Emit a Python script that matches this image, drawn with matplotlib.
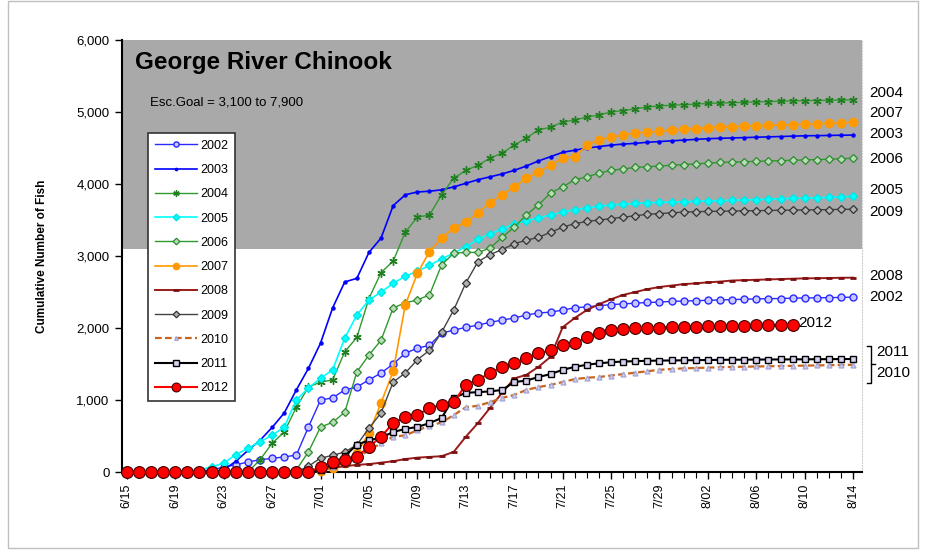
import numpy as np
import matplotlib
matplotlib.use("Agg")
import matplotlib.pyplot as plt
from matplotlib.patches import Rectangle
from matplotlib.ticker import FuncFormatter, MultipleLocator

plt.rcParams['font.family'] = ['Liberation Sans', 'DejaVu Sans']

# daily cumulative counts, 6/15 .. 8/14
y2002 = [0, 0, 0, 0, 0, 0, 10, 30, 70, 100,
         140, 170, 190, 210, 235, 625, 1000, 1030, 1140, 1180,
         1280, 1375, 1500, 1650, 1720, 1760, 1930, 1970, 2010, 2040,
         2080, 2110, 2140, 2180, 2210, 2220, 2250, 2280, 2295, 2310,
         2325, 2335, 2345, 2355, 2360, 2370, 2375, 2380, 2385, 2390,
         2395, 2400, 2405, 2408, 2410, 2415, 2418, 2420, 2422, 2425,
         2430]
y2003 = [0, 0, 0, 0, 0, 0, 0, 0, 30, 150,
         300, 440, 620, 820, 1140, 1440, 1790, 2280, 2640, 2690,
         3050, 3250, 3700, 3850, 3890, 3900, 3920, 3960, 4010, 4060,
         4100, 4140, 4190, 4250, 4320, 4380, 4440, 4470, 4500, 4520,
         4540, 4555, 4565, 4580, 4590, 4600, 4610, 4620, 4630, 4635,
         4640, 4645, 4650, 4655, 4660, 4665, 4670, 4672, 4675, 4678,
         4680]
y2004 = [0, 0, 0, 0, 0, 0, 0, 0, 0, 0,
         0, 170, 400, 555, 900, 1180, 1250, 1280, 1670, 1870,
         2410, 2770, 2930, 3330, 3540, 3570, 3850, 4080, 4190, 4260,
         4360, 4430, 4540, 4640, 4750, 4790, 4860, 4890, 4930, 4960,
         5000, 5020, 5045, 5070, 5085, 5095, 5100, 5110, 5120, 5125,
         5130, 5135, 5140, 5145, 5150, 5155, 5158, 5160, 5163, 5166,
         5170]
y2005 = [0, 0, 0, 0, 0, 0, 30, 70, 125, 240,
         330, 420, 510, 625, 1000, 1170, 1300, 1420, 1860, 2180,
         2390, 2500, 2620, 2720, 2790, 2870, 2960, 3040, 3130, 3230,
         3310, 3370, 3450, 3490, 3530, 3570, 3610, 3645, 3670, 3690,
         3710, 3720, 3730, 3740, 3745, 3750, 3755, 3760, 3765, 3770,
         3775, 3780, 3785, 3790, 3795, 3800, 3805, 3810, 3815, 3820,
         3830]
y2006 = [0, 0, 0, 0, 0, 0, 0, 0, 0, 0,
         0, 0, 0, 0, 30, 280, 625, 690, 830, 1390,
         1625, 1830, 2280, 2350, 2390, 2460, 2875, 3040, 3050, 3050,
         3110, 3260, 3400, 3570, 3710, 3875, 3960, 4060, 4100, 4150,
         4190, 4210, 4230, 4240, 4250, 4260, 4270, 4280, 4290, 4300,
         4305, 4310, 4315, 4320, 4325, 4330, 4335, 4340, 4345, 4350,
         4360]
y2007 = [0, 0, 0, 0, 0, 0, 0, 0, 0, 0,
         0, 0, 0, 0, 0, 0, 20, 60, 130, 260,
         540, 960, 1400, 2320, 2760, 3060, 3250, 3390, 3470, 3600,
         3740, 3850, 3960, 4080, 4170, 4260, 4360, 4380, 4540, 4610,
         4650, 4680, 4710, 4720, 4730, 4750, 4760, 4770, 4780, 4790,
         4795, 4800, 4810, 4815, 4820, 4825, 4830, 4840, 4845, 4850,
         4860]
y2008 = [0, 0, 0, 0, 0, 0, 0, 0, 0, 0,
         0, 0, 0, 0, 0, 0, 30, 60, 80, 100,
         110, 130, 150, 180, 200, 210, 220, 280, 490, 680,
         890, 1100, 1300, 1350, 1460, 1600, 2010, 2140, 2250, 2330,
         2400, 2460, 2500, 2540, 2570, 2590, 2610, 2620, 2635, 2645,
         2660, 2665, 2670, 2675, 2680, 2685, 2690, 2692, 2695, 2698,
         2700]
y2009 = [0, 0, 0, 0, 0, 0, 0, 0, 0, 0,
         0, 0, 0, 0, 0, 80, 195, 230, 280, 375,
         610, 820, 1250, 1375, 1560, 1690, 1940, 2250, 2625, 2920,
         3020, 3090, 3170, 3220, 3260, 3330, 3400, 3450, 3480, 3500,
         3520, 3540, 3560, 3580, 3590, 3600, 3610, 3615, 3620, 3622,
         3625, 3628, 3630, 3633, 3636, 3638, 3640, 3642, 3645, 3648,
         3650]
y2010 = [0, 0, 0, 0, 0, 0, 0, 0, 0, 0,
         0, 0, 0, 0, 0, 0, 30, 70, 130, 200,
         300, 400, 490, 510, 580, 640, 690, 790, 900, 920,
         970, 1030, 1070, 1140, 1180, 1210, 1250, 1290, 1310, 1320,
         1340, 1360, 1380, 1400, 1420, 1430, 1440, 1445, 1450, 1455,
         1460, 1463, 1466, 1469, 1472, 1475, 1478, 1481, 1484, 1487,
         1490]
y2011 = [0, 0, 0, 0, 0, 0, 0, 0, 0, 0,
         0, 0, 0, 0, 0, 0, 30, 100, 220, 380,
         440, 480, 555, 600, 625, 680, 750, 1030, 1100, 1110,
         1120, 1140, 1250, 1270, 1320, 1360, 1420, 1460, 1490, 1510,
         1525, 1535, 1540, 1545, 1548, 1550, 1552, 1554, 1556, 1558,
         1560, 1561, 1562, 1563, 1564, 1565, 1566, 1567, 1568, 1569,
         1570]
y2012 = [0, 0, 0, 0, 0, 0, 0, 0, 0, 0,
         0, 0, 0, 0, 0, 0, 70, 140, 165, 210,
         350, 490, 680, 760, 790, 890, 930, 970, 1210, 1280,
         1375, 1460, 1510, 1580, 1650, 1690, 1760, 1790, 1870, 1930,
         1970, 1985, 1995, 2000, 2005, 2010, 2015, 2020, 2025, 2030,
         2032, 2035, 2037, 2040, 2040, 2042]

years = ['2002', '2003', '2004', '2005', '2006', '2007',
         '2008', '2009', '2010', '2011', '2012']
tick_labels = ['6/15', '6/19', '6/23', '6/27', '7/01', '7/05', '7/09', '7/13',
               '7/17', '7/21', '7/25', '7/29', '8/02', '8/06', '8/10', '8/14']
goal_low, goal_high = 3100, 7900

series = [y2002, y2003, y2004, y2005, y2006, y2007,
          y2008, y2009, y2010, y2011, y2012]

styles = {
    '2002': dict(color='#2a2aff', lw=1.0, marker='o', ms=5, mfc='#c8c8ff', mec='#2a2aff', mew=1.0),
    '2003': dict(color='#0000ff', lw=1.2, marker='o', ms=2.2, mfc='#0000ff', mec='#0000ff'),
    '2004': dict(color='#2e9a2e', lw=1.0, marker=(6, 2, 0), ms=6, mec='#1f7f1f', mew=1.0),
    '2005': dict(color='#00ffff', lw=1.2, marker='D', ms=4.5, mfc='#00ffff', mec='#00e5e5'),
    '2006': dict(color='#2e9a2e', lw=1.0, marker='D', ms=4.5, mfc='#b8dcb8', mec='#2e8a2e', mew=0.9),
    '2007': dict(color='#ff9900', lw=1.2, marker='o', ms=6, mfc='#ff9900', mec='#ff9900'),
    '2008': dict(color='#9b1b1b', lw=1.4, marker='_', ms=5, mec='#7a0f0f', mew=2.0),
    '2009': dict(color='#444444', lw=1.0, marker='D', ms=4.5, mfc='#b0b0b0', mec='#333333', mew=0.9),
    '2010': dict(color='#c8641e', lw=1.6, ls=(0, (3, 1.5)), marker='^', ms=3.5, mfc='#d0d0f0', mec='#a8a8d8'),
    '2011': dict(color='#000000', lw=1.5, marker='s', ms=5, mfc='#d8d0f0', mec='#000000', mew=1.0),
    '2012': dict(color='#ff0000', lw=1.5, marker='o', ms=8.5, mfc='#ff0000', mec='#400000', mew=0.8),
}

fig = plt.figure(figsize=(9.35, 5.56), dpi=100)
ax = fig.add_axes([0.1305, 0.151, 0.791, 0.777])

# escapement goal band
ax.axhspan(goal_low, goal_high, color='#a9a9a9', zorder=0, lw=0)

for yr, vals in zip(years, series):
    days = np.arange(len(vals))
    st = dict(styles[yr])
    ls = st.pop('ls', '-')
    ax.plot(days, vals, linestyle=ls, label=yr, clip_on=False, zorder=3, **st)

ax.set_xlim(-0.4, 60.7)
ax.set_ylim(0, 6000)
ax.yaxis.set_major_locator(MultipleLocator(1000))
ax.yaxis.set_major_formatter(FuncFormatter(lambda v, p: f"{int(v):,}"))
ax.set_xticks(np.arange(0, 61, 4))
ax.set_xticklabels(tick_labels, rotation=90, fontsize=9)
ax.xaxis.set_minor_locator(MultipleLocator(1))
ax.tick_params(axis='y', labelsize=9.5, length=5, width=1, pad=4)
ax.tick_params(axis='x', which='major', length=5, width=1, pad=3)
ax.tick_params(axis='x', which='minor', length=4, width=0.8)

ax.spines['top'].set_visible(False)
ax.spines['right'].set_color('#d0d0d0')
ax.spines['right'].set_linestyle(':')
ax.spines['left'].set_linewidth(1.5)
ax.spines['bottom'].set_linewidth(1.5)

ax.set_ylabel('Cumulative Number of Fish', fontsize=8.5, fontweight='bold', labelpad=20)

ax.text(0.018, 0.949, 'George River Chinook', transform=ax.transAxes,
        fontsize=17.5, fontweight='bold', va='center', ha='left')
ax.text(0.038, 0.856, 'Esc.Goal = 3,100 to 7,900', transform=ax.transAxes,
        fontsize=9.5, va='center', ha='left')

leg = ax.legend(loc='upper left', bbox_to_anchor=(0.035, 0.785), fontsize=9,
                frameon=True, fancybox=False, framealpha=1, edgecolor='#333333',
                handlelength=3.4, handletextpad=0.25, labelspacing=0.98,
                borderpad=0.55, borderaxespad=0, markerscale=0.75)
leg.get_frame().set_linewidth(1.2)
leg.set_zorder(5)

# end-of-season labels
end_pos = {'2004': 5264, '2007': 4986, '2003': 4694, '2006': 4347, '2005': 3917,
           '2009': 3611, '2008': 2722, '2002': 2431, '2011': 1667, '2010': 1375}
for yr, yv in end_pos.items():
    xpos = 61.3 if yr not in ('2011', '2010') else 61.9
    ax.text(xpos, yv, yr, fontsize=11, va='center', ha='left', clip_on=False)
ax.text(55.5, 2069, '2012', fontsize=11, va='center', ha='left')

# bracket grouping 2011 / 2010
bx = 61.5
ax.plot([bx - 0.35, bx, bx, bx - 0.35], [1750, 1750, 1240, 1240], color='black',
        lw=1.0, clip_on=False)
ax.plot([bx, bx + 0.3], [1495, 1495], color='black', lw=1.0, clip_on=False)

# outer chart border
fig.patches.append(Rectangle((8 / 935, 1 - 548 / 556), 910 / 935, 548 / 556 - 0.002,
                             transform=fig.transFigure, fill=False,
                             edgecolor='#c0c0c0', lw=1.0))

fig.savefig('out.png', dpi=100)
